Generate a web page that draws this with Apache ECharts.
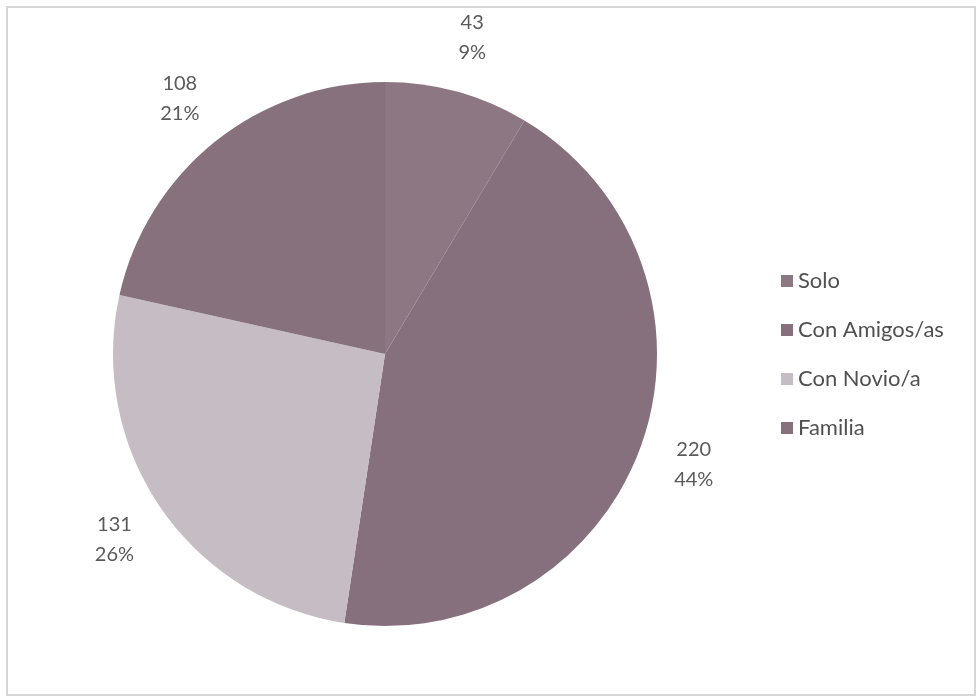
<!DOCTYPE html>
<html>
<head>
<meta charset="utf-8">
<script src="https://cdn.jsdelivr.net/npm/echarts@6/dist/echarts.min.js"></script>
<style>
  html, body { margin: 0; padding: 0; background: #ffffff; }
  #frame { position: absolute; left: 6px; top: 6px; width: 966px; height: 686px; border: 2px solid #d6d6d6; box-sizing: content-box; }
  #chart { position: absolute; left: 0; top: 0; width: 980px; height: 699px; }
</style>
</head>
<body>
<div id="frame"></div>
<div id="chart"></div>
<script>
// Who people go with
const categories = ['Solo', 'Con Amigos/as', 'Con Novio/a', 'Familia'];
const values = [43, 220, 131, 108];
const sliceColors = ['#8d7783', '#87707d', '#c6bcc4', '#86717c'];

const chart = echarts.init(document.getElementById('chart'));
chart.setOption({
  animation: false,
  color: sliceColors,
  legend: {
    orient: 'vertical',
    left: 776,
    top: 264,
    icon: 'rect',
    itemWidth: 12,
    itemHeight: 12,
    itemGap: 25,
    data: categories,
    textStyle: { fontFamily: 'Lato', fontSize: 22, color: '#505050', lineHeight: 24 }
  },
  series: [{
    type: 'pie',
    center: [385, 354],
    radius: 272,
    startAngle: 90,
    clockwise: true,
    percentPrecision: 0,
    label: {
      show: true,
      position: 'outside',
      formatter: '{c}\n{d}%',
      fontFamily: 'Lato',
      fontSize: 20,
      lineHeight: 30,
      color: '#5a5a5a',
      align: 'center'
    },
    // invisible guide line: its end point marks where each label is centred
    labelLine: { show: true, length: 56, length2: 0, lineStyle: { opacity: 0 } },
    labelLayout: function (p) {
      const pts = p.labelLinePoints;
      if (!pts || !pts.length) return {};
      const end = pts[1] || pts[pts.length - 1];
      return { x: end[0], y: end[1], align: 'center', verticalAlign: 'middle' };
    },
    itemStyle: { borderWidth: 0 },
    emphasis: { disabled: true },
    data: categories.map((name, i) => ({ name, value: values[i] }))
  }]
});
</script>
</body>
</html>
